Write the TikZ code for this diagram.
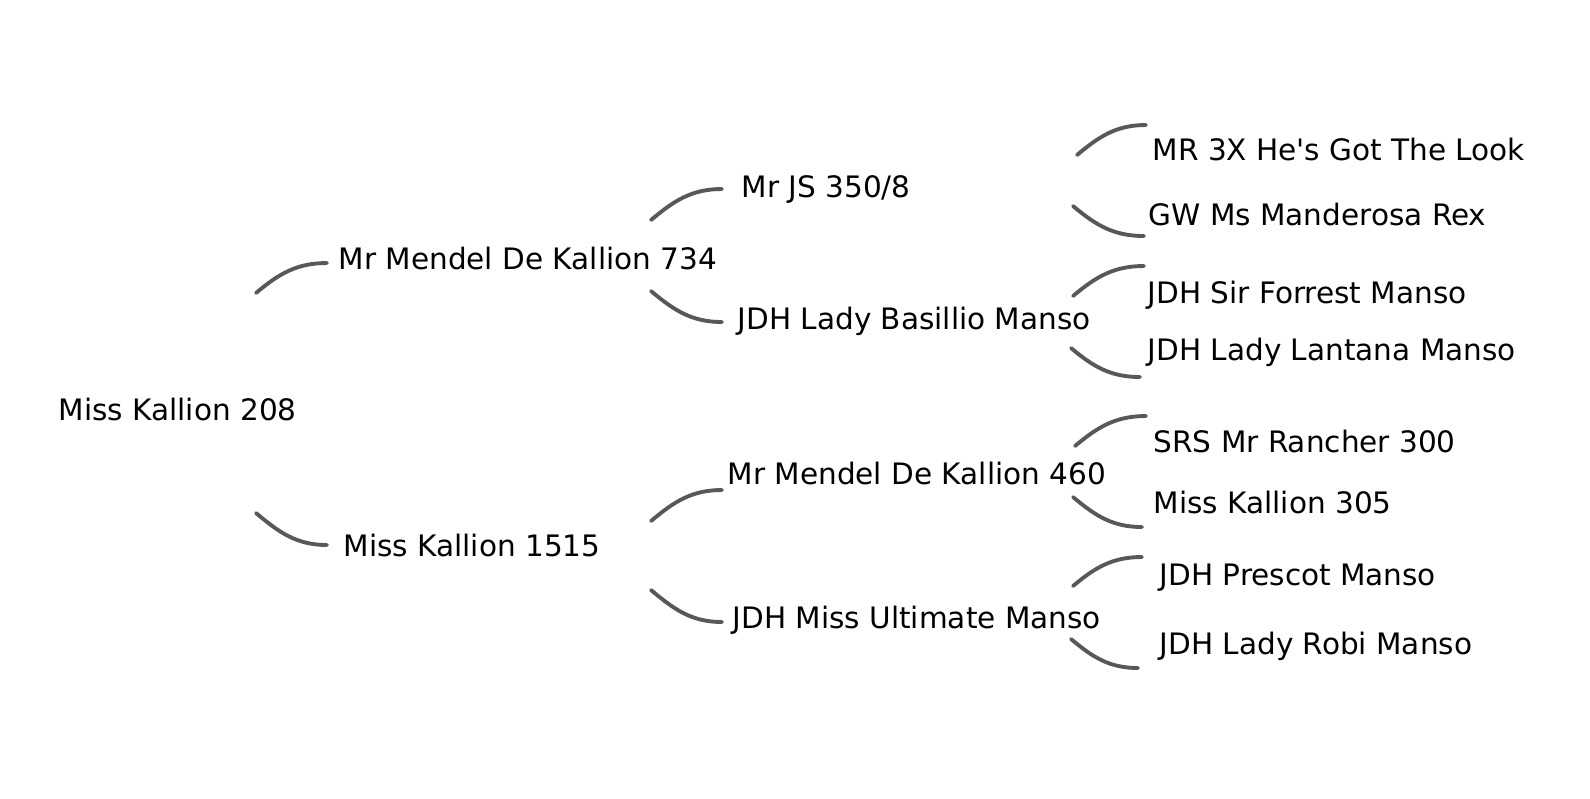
\documentclass[tikz,border=0pt]{standalone}
\usepackage{fontspec}
\setmainfont{DejaVu Sans}
\usetikzlibrary{positioning}
\definecolor{linkgray}{RGB}{88,88,88}

\begin{document}
\begin{tikzpicture}[x=0.1mm, y=-0.1mm,
  every node/.style={font=\fontsize{8.4}{10}\selectfont, inner sep=0pt, anchor=base west},
  link/.style={draw=linkgray, line width=1.1pt, line cap=round}]
\useasboundingbox (0,0) rectangle (1590,798);

% generation 0 and 1
\node (root) at (58,420) {Miss Kallion 208};
\node (sire) at (338,269) {Mr Mendel De Kallion 734};
\node (dam) at (343,556) {Miss Kallion 1515};

% generation 2
\node (ss) at (741,197) {Mr JS 350/8};
\node (sd) at (737,329) {JDH Lady Basillio Manso};
\node (ds) at (727,484) {Mr Mendel De Kallion 460};
\node (dd) at (732,628) {JDH Miss Ultimate Manso};

% generation 3
\node (sss) at (1152,160) {MR 3X He\textquotesingle s Got The Look};
\node (ssd) at (1148,225) {GW Ms Manderosa Rex};
\node (sds) at (1147,303) {JDH Sir Forrest Manso};
\node (sdd) at (1147,360) {JDH Lady Lantana Manso};
\node (dss) at (1153,452) {SRS Mr Rancher 300};
\node (dsd) at (1153,513) {Miss Kallion 305};
\node (dds) at (1159,585) {JDH Prescot Manso};
\node (ddd) at (1159,654) {JDH Lady Robi Manso};

% curve ends
\coordinate (root-a) at (256,293); \coordinate (sire-in) at (327,263);
\coordinate (root-b) at (256,513); \coordinate (dam-in) at (327,545);
\coordinate (sire-a) at (651,220); \coordinate (ss-in) at (722,189);
\coordinate (sire-b) at (651,291); \coordinate (sd-in) at (722,322);
\coordinate (dam-a) at (651,521); \coordinate (ds-in) at (722,490);
\coordinate (dam-b) at (651,590); \coordinate (dd-in) at (722,622);
\coordinate (ss-a) at (1077,155); \coordinate (sss-in) at (1146,125);
\coordinate (ss-b) at (1073,206); \coordinate (ssd-in) at (1144,236);
\coordinate (sd-a) at (1073,296); \coordinate (sds-in) at (1144,266);
\coordinate (sd-b) at (1071,348); \coordinate (sdd-in) at (1140,377);
\coordinate (ds-a) at (1075,446); \coordinate (dss-in) at (1146,416);
\coordinate (ds-b) at (1073,497); \coordinate (dsd-in) at (1142,527);
\coordinate (dd-a) at (1073,586); \coordinate (dds-in) at (1142,557);
\coordinate (dd-b) at (1071,639); \coordinate (ddd-in) at (1138,668);

\draw[link] (root-a) to[out=40,in=180] (sire-in);
\draw[link] (root-b) to[out=-40,in=180] (dam-in);
\draw[link] (sire-a) to[out=40,in=180] (ss-in);
\draw[link] (sire-b) to[out=-40,in=180] (sd-in);
\draw[link] (dam-a) to[out=40,in=180] (ds-in);
\draw[link] (dam-b) to[out=-40,in=180] (dd-in);
\draw[link] (ss-a) to[out=40,in=180] (sss-in);
\draw[link] (ss-b) to[out=-40,in=180] (ssd-in);
\draw[link] (sd-a) to[out=40,in=180] (sds-in);
\draw[link] (sd-b) to[out=-40,in=180] (sdd-in);
\draw[link] (ds-a) to[out=40,in=180] (dss-in);
\draw[link] (ds-b) to[out=-40,in=180] (dsd-in);
\draw[link] (dd-a) to[out=40,in=180] (dds-in);
\draw[link] (dd-b) to[out=-40,in=180] (ddd-in);
\end{tikzpicture}
\end{document}
